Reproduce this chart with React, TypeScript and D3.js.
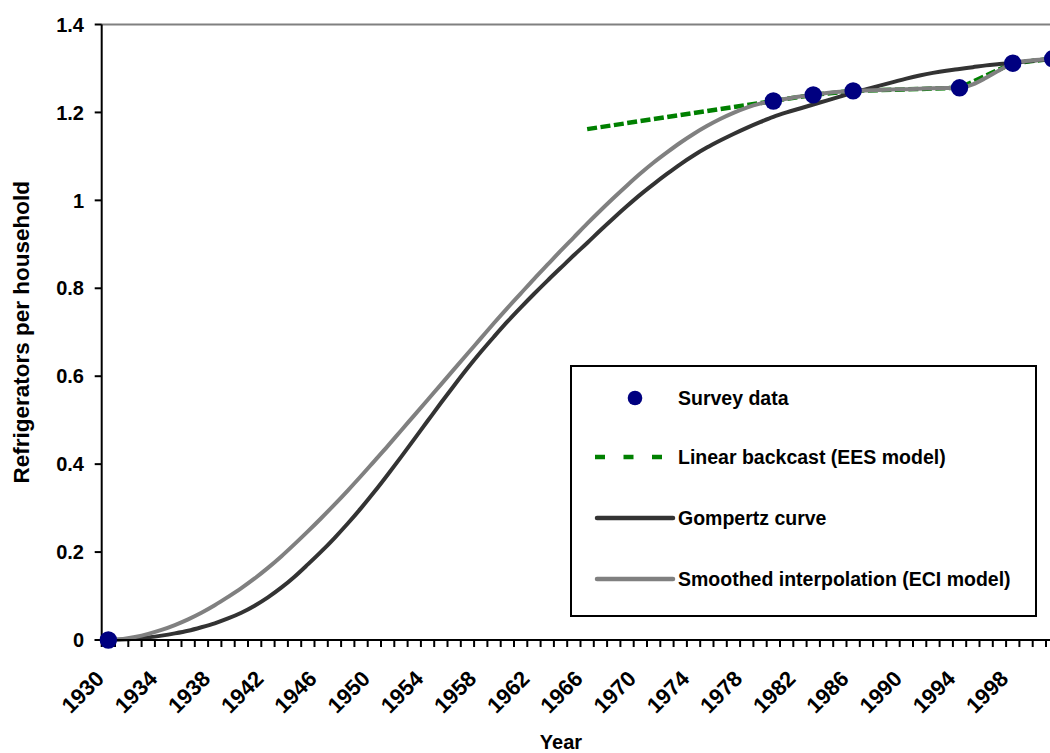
import React from "react";
import * as d3 from "d3";

const years: number[] = d3.range(1930, 2002);

// Gompertz curve (one value per year 1930..2001)
const gompertz: number[] = [
  0.0, 0.001, 0.003, 0.006, 0.01, 0.015, 0.021, 0.029, 0.038, 0.049,
  0.062, 0.078, 0.097, 0.119, 0.144, 0.172, 0.201, 0.232, 0.265, 0.3,
  0.337, 0.376, 0.416, 0.457, 0.498, 0.539, 0.579, 0.618, 0.655, 0.69,
  0.724, 0.756, 0.787, 0.817, 0.846, 0.875, 0.903, 0.932, 0.96, 0.987,
  1.013, 1.037, 1.06, 1.082, 1.102, 1.12, 1.136, 1.151, 1.165, 1.178,
  1.19, 1.2, 1.209, 1.218, 1.227, 1.236, 1.245, 1.253, 1.261, 1.269,
  1.277, 1.284, 1.29, 1.295, 1.299, 1.303, 1.307, 1.31, 1.313, 1.316,
  1.319, 1.322,
];

// Smoothed interpolation (ECI model), one value per year 1930..2001
const smoothed: number[] = [
  0.0, 0.002, 0.007, 0.014, 0.023, 0.034, 0.047, 0.062, 0.079, 0.098,
  0.118, 0.14, 0.164, 0.19, 0.218, 0.247, 0.277, 0.308, 0.34, 0.373,
  0.407, 0.441, 0.476, 0.511, 0.546, 0.581, 0.616, 0.651, 0.686, 0.721,
  0.755, 0.788, 0.821, 0.853, 0.885, 0.916, 0.947, 0.977, 1.006, 1.034,
  1.061, 1.086, 1.109, 1.131, 1.151, 1.169, 1.185, 1.199, 1.211, 1.22,
  1.226, 1.231, 1.236, 1.24, 1.244, 1.247, 1.249, 1.25, 1.251, 1.252,
  1.253, 1.254, 1.255, 1.2555, 1.256, 1.264, 1.279, 1.296, 1.312, 1.317,
  1.32, 1.322,
];

const surveyYears: number[] = [1930, 1980, 1983, 1986, 1994, 1998, 2001];
const surveyValues: number[] = [0, 1.226, 1.24, 1.249, 1.256, 1.312, 1.322];

const backcastYears: number[] = [1966, 1980, 1983, 1986, 1994, 1998, 2001];
const backcastValues: number[] = [1.162, 1.226, 1.24, 1.249, 1.256, 1.312, 1.322];

const yTicks: number[] = [0, 0.2, 0.4, 0.6, 0.8, 1, 1.2, 1.4];
const xTickLabels: number[] = d3.range(1930, 2002, 4);

const legendLabels: string[] = [
  "Survey data",
  "Linear backcast (EES model)",
  "Gompertz curve",
  "Smoothed interpolation (ECI model)",
];

const FONT = "'Liberation Sans', Arial, Helvetica, sans-serif";

export default function App() {
  const W = 1050;
  const H = 753;
  const left = 101.7;
  const step = 13.3;
  const top = 24.5;
  const bottom = 640;

  const x = d3
    .scaleBand<number>()
    .domain(years)
    .range([left, left + years.length * step])
    .paddingInner(0)
    .paddingOuter(0);
  const bw = x.bandwidth();
  const cx = (yr: number) => (x(yr) as number) + bw / 2;
  const y = d3.scaleLinear().domain([0, 1.4]).range([bottom, top]);

  const curveLine = d3
    .line<[number, number]>()
    .x((d) => cx(d[0]))
    .y((d) => y(d[1]))
    .curve(d3.curveMonotoneX);
  const straightLine = d3
    .line<[number, number]>()
    .x((d) => cx(d[0]))
    .y((d) => y(d[1]));

  const gompPath = curveLine(years.map((yr, i) => [yr, gompertz[i]]));
  const smoothPath = curveLine(years.map((yr, i) => [yr, smoothed[i]]));
  const backPath = straightLine(
    backcastYears.map((yr, i) => [yr, backcastValues[i]])
  );

  const tickBoundaries = years.map((yr) => x(yr) as number).concat([
    (x(years[years.length - 1]) as number) + bw,
  ]);

  const axisRight = left + years.length * step;

  // legend geometry
  const lgX = 571;
  const lgY = 366;
  const lgW = 465;
  const lgH = 250;
  const rowY = [398, 457, 518, 579];

  return (
    <svg
      width={W}
      height={H}
      style={{ position: "fixed", left: 0, top: 0, background: "#fff" }}
      fontFamily={FONT}
      fontWeight="bold"
    >
      <rect x={0} y={0} width={W} height={H} fill="#fff" />

      {/* top border line */}
      <line x1={left} x2={axisRight} y1={top} y2={top} stroke="#808080" strokeWidth={2} />

      {/* series */}
      <path d={backPath || ""} fill="none" stroke="#008000" strokeWidth={4.5} strokeDasharray="10 3.5" />
      <path d={gompPath || ""} fill="none" stroke="#333333" strokeWidth={4} strokeLinejoin="round" />
      <path d={smoothPath || ""} fill="none" stroke="#808080" strokeWidth={4} strokeLinejoin="round" />

      {/* axes */}
      <line x1={left} x2={left} y1={top} y2={bottom} stroke="#000" strokeWidth={2} />
      <line x1={left - 7} x2={axisRight} y1={bottom} y2={bottom} stroke="#000" strokeWidth={2} />
      {yTicks.map((t) => (
        <g key={"yt" + t}>
          <line x1={left - 7} x2={left} y1={y(t)} y2={y(t)} stroke="#000" strokeWidth={2} />
          <text x={84} y={y(t)} dy="0.36em" textAnchor="end" fontSize={20} fill="#000">
            {String(t)}
          </text>
        </g>
      ))}
      {tickBoundaries.map((bx, i) => (
        <line key={"xt" + i} x1={bx} x2={bx} y1={bottom} y2={bottom + 7} stroke="#000" strokeWidth={2} />
      ))}
      {xTickLabels.map((yr) => (
        <text
          key={"xl" + yr}
          transform={`translate(${cx(yr) - 3},${bottom + 40}) rotate(-45)`}
          textAnchor="end"
          fontSize={22}
          fill="#000"
        >
          {String(yr)}
        </text>
      ))}

      {/* survey dots */}
      {surveyYears.map((yr, i) => (
        <circle key={"s" + yr} cx={cx(yr)} cy={y(surveyValues[i])} r={8.7} fill="#000080" />
      ))}

      {/* axis titles */}
      <text
        transform={`translate(29,${(top + bottom) / 2}) rotate(-90)`}
        textAnchor="middle"
        fontSize={22.5}
        fill="#000"
      >
        Refrigerators per household
      </text>
      <text x={561} y={749} textAnchor="middle" fontSize={20} fill="#000">
        Year
      </text>

      {/* legend */}
      <rect x={lgX} y={lgY} width={lgW} height={lgH} fill="#fff" stroke="#000" strokeWidth={2} />
      <circle cx={635} cy={rowY[0]} r={7.3} fill="#000080" />
      <line x1={595} x2={665} y1={rowY[1]} y2={rowY[1]} stroke="#008000" strokeWidth={4.5} strokeDasharray="10 18.5" />
      <line x1={597} x2={673} y1={rowY[2]} y2={rowY[2]} stroke="#333333" strokeWidth={4.5} strokeLinecap="round" />
      <line x1={597} x2={673} y1={rowY[3]} y2={rowY[3]} stroke="#808080" strokeWidth={4.5} strokeLinecap="round" />
      {legendLabels.map((lab, i) => (
        <text key={lab} x={678} y={rowY[i]} dy="0.36em" fontSize={19.5} fill="#000">
          {lab}
        </text>
      ))}
    </svg>
  );
}
